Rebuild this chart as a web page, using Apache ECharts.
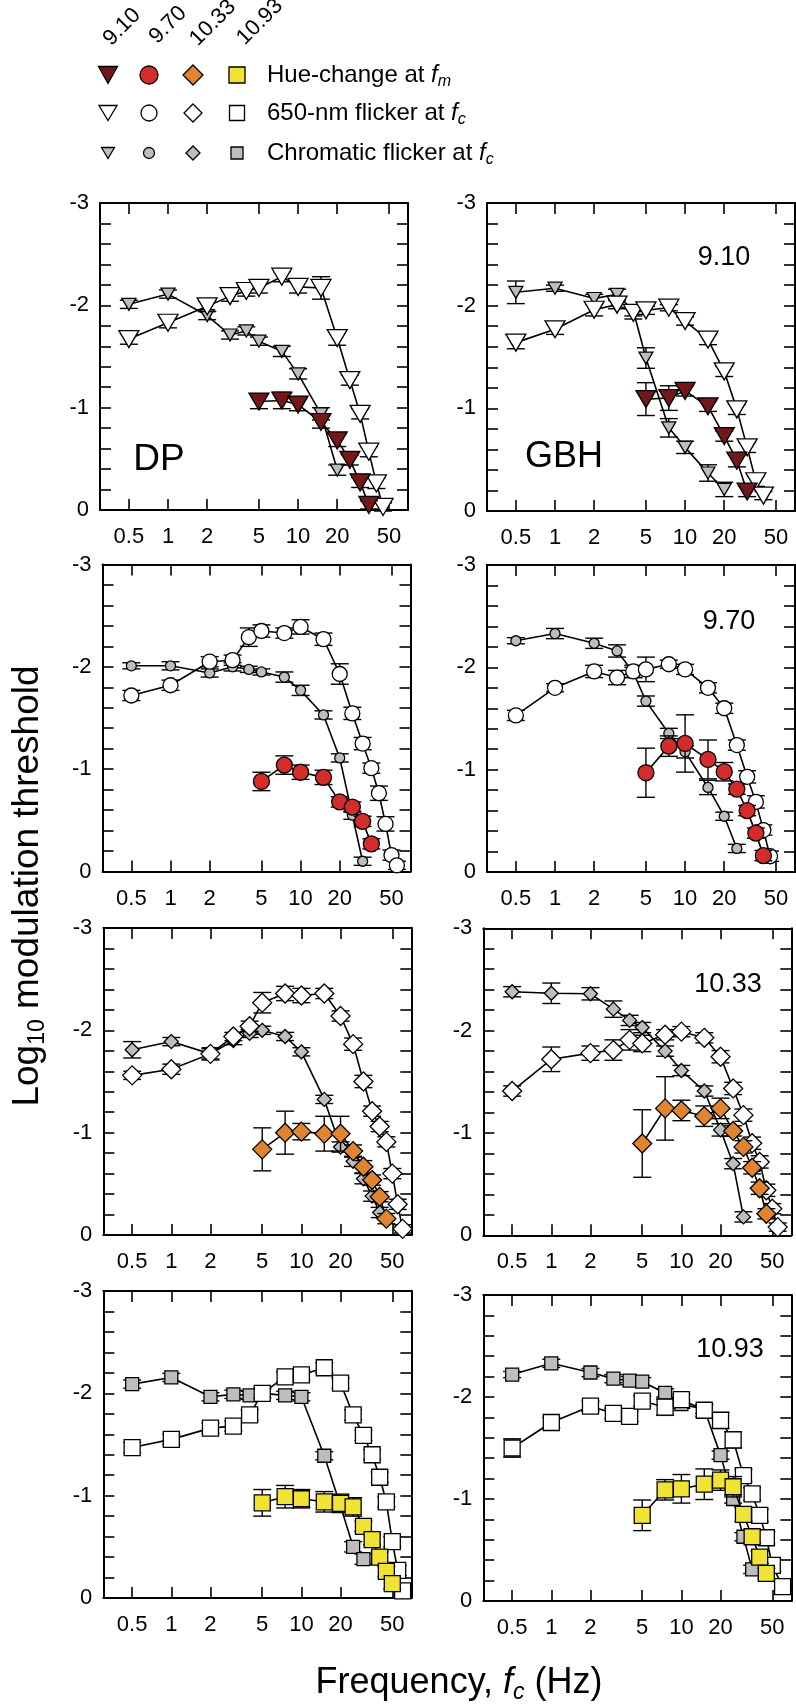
<!DOCTYPE html>
<html><head><meta charset="utf-8">
<script src="https://cdn.jsdelivr.net/npm/echarts@6/dist/echarts.min.js"></script>
<style>html,body{margin:0;padding:0;background:#fff}#c{width:796px;height:1708px}</style>
</head><body><div id="c"></div>
<script>
// ---------- data ----------
const xTickValues = [0.5, 1, 2, 5, 10, 20, 50];
const subjects = ['DP', 'GBH'];
const wavelengths = ['9.10', '9.70', '10.33', '10.93'];
const legendRows = ['Hue-change at ', '650-nm flicker at ', 'Chromatic flicker at '];

// [frequency Hz, log10 threshold, error]
const dp910Chrom = [[0.5,-2.01,0.04],[1,-2.11,0.04],[2,-1.90,0.04],[3,-1.71,0.04],[4,-1.75,0.04],[5,-1.65,0.04],[7.5,-1.55,0.05],[10,-1.33,0.05],[15,-0.94,0.06],[20,-0.39,0.05]];
const dp910Open  = [[0.5,-1.67,0.05],[1,-1.83,0.05],[2,-1.99,0.05],[3,-2.09,0.05],[4,-2.14,0.05],[5,-2.17,0.05],[7.5,-2.28,0.05],[10,-2.18,0.06],[15,-2.17,0.11],[20,-1.68,0.07],[25,-1.27,0.05],[30,-0.94,0.05],[35,-0.57,0.05],[40,-0.26,0.05],[45,-0.03,0.04]];
const dp910Hue   = [[5,-1.06,0.07],[7.5,-1.07,0.08],[10,-1.03,0.06],[15,-0.86,0.06],[20,-0.68,0.06],[25,-0.49,0.05],[30,-0.27,0.05],[35,-0.05,0.04]];

const gbh910Chrom = [[0.5,-2.13,0.11],[1,-2.17,0.03],[2,-2.07,0.04],[3,-2.11,0.05],[4,-1.95,0.05],[5,-1.49,0.10],[7.5,-0.81,0.09],[10,-0.62,0.06],[15,-0.37,0.08],[20,-0.21,0.07]];
const gbh910Open  = [[0.5,-1.64,0.06],[1,-1.77,0.05],[2,-1.96,0.06],[3,-2.01,0.04],[4,-1.93,0.06],[5,-1.955,0.04],[7.5,-1.98,0.03],[10,-1.85,0.04],[15,-1.67,0.05],[20,-1.36,0.05],[25,-0.99,0.05],[30,-0.62,0.05],[35,-0.29,0.05],[40,-0.15,0.04]];
const gbh910Hue   = [[5,-1.09,0.16],[7.5,-1.10,0.12],[10,-1.17,0.05],[15,-1.02,0.05],[20,-0.73,0.05],[25,-0.49,0.06],[30,-0.19,0.05]];

const dp970Chrom = [[0.5,-2.01,0.03],[1,-2.01,0.04],[2,-1.94,0.04],[3,-2.00,0.04],[4,-1.975,0.03],[5,-1.95,0.03],[7.5,-1.90,0.05],[10,-1.77,0.05],[15,-1.53,0.04],[20,-1.11,0.04],[25,-0.55,0.04],[30,-0.10,0.04]];
const dp970Open  = [[0.5,-1.72,0.05],[1,-1.82,0.05],[2,-2.05,0.05],[3,-2.065,0.05],[4,-2.29,0.09],[5,-2.35,0.06],[7.5,-2.33,0.05],[10,-2.39,0.07],[15,-2.27,0.06],[20,-1.93,0.10],[25,-1.545,0.06],[30,-1.25,0.06],[35,-1.01,0.05],[40,-0.765,0.07],[45,-0.465,0.07],[50,-0.16,0.05],[55,-0.06,0.04]];
const dp970Hue   = [[5,-0.88,0.09],[7.5,-1.04,0.09],[10,-0.97,0.07],[15,-0.92,0.07],[20,-0.68,0.05],[25,-0.63,0.05],[30,-0.49,0.05],[35,-0.27,0.05]];

const gbh970Chrom = [[0.5,-2.26,0.03],[1,-2.33,0.05],[2,-2.235,0.05],[3,-2.16,0.06],[4,-1.95,0.05],[5,-1.67,0.05],[7.5,-1.354,0.05],[10,-1.174,0.06],[15,-0.826,0.07],[20,-0.545,0.04],[25,-0.23,0.04]];
const gbh970Open  = [[0.5,-1.53,0.05],[1,-1.80,0.04],[2,-1.96,0.06],[3,-1.90,0.07],[4,-1.96,0.06],[5,-1.98,0.12],[7.5,-2.03,0.04],[10,-1.98,0.05],[15,-1.80,0.05],[20,-1.60,0.05],[25,-1.24,0.05],[30,-0.93,0.06],[35,-0.685,0.06],[40,-0.41,0.05],[45,-0.154,0.05]];
const gbh970Hue   = [[5,-0.97,0.24],[7.5,-1.23,0.10],[10,-1.256,0.28],[15,-1.10,0.19],[20,-0.98,0.09],[25,-0.81,0.05],[30,-0.60,0.05],[35,-0.38,0.05],[40,-0.16,0.05]];

const dp1033Chrom = [[0.5,-1.81,0.08],[1,-1.89,0.04],[2,-1.77,0.05],[3,-1.90,0.04],[4,-1.97,0.04],[5,-2.00,0.04],[7.5,-1.94,0.04],[10,-1.79,0.04],[15,-1.325,0.04],[20,-0.86,0.05],[25,-0.72,0.05],[30,-0.55,0.05],[35,-0.38,0.05],[40,-0.22,0.05]];
const dp1033Open  = [[0.5,-1.56,0.04],[1,-1.62,0.05],[2,-1.77,0.06],[3,-1.94,0.04],[4,-2.04,0.05],[5,-2.27,0.10],[7.5,-2.36,0.07],[10,-2.34,0.07],[15,-2.36,0.05],[20,-2.14,0.05],[25,-1.865,0.06],[30,-1.50,0.06],[35,-1.21,0.05],[40,-1.06,0.05],[45,-0.91,0.05],[50,-0.60,0.05],[55,-0.30,0.05],[60,-0.06,0.04]];
const dp1033Hue   = [[5,-0.837,0.21],[7.5,-1.00,0.21],[10,-1.01,0.08],[15,-0.99,0.17],[20,-0.99,0.17],[25,-0.82,0.06],[30,-0.667,0.06],[35,-0.537,0.05],[40,-0.374,0.05],[45,-0.16,0.05]];

const gbh1033Chrom = [[0.5,-2.38,0.05],[1,-2.365,0.10],[2,-2.36,0.06],[3,-2.21,0.08],[4,-2.10,0.05],[5,-2.03,0.05],[7.5,-1.80,0.05],[10,-1.61,0.05],[15,-1.41,0.05],[20,-1.03,0.06],[25,-0.70,0.05],[30,-0.18,0.05]];
const gbh1033Open  = [[0.5,-1.41,0.05],[1,-1.72,0.12],[2,-1.78,0.07],[3,-1.81,0.10],[4,-1.91,0.10],[5,-1.875,0.08],[7.5,-1.96,0.05],[10,-1.99,0.05],[15,-1.93,0.05],[20,-1.745,0.06],[25,-1.435,0.06],[30,-1.174,0.06],[35,-0.90,0.06],[40,-0.717,0.06],[45,-0.44,0.06],[50,-0.26,0.05],[55,-0.08,0.04]];
const gbh1033Hue   = [[5,-0.897,0.33],[7.5,-1.24,0.31],[10,-1.22,0.10],[15,-1.164,0.10],[20,-1.24,0.10],[25,-1.02,0.05],[30,-0.864,0.06],[35,-0.66,0.06],[40,-0.46,0.06],[45,-0.21,0.05]];

const dp1093Chrom = [[0.5,-2.09,0.04],[1,-2.155,0.04],[2,-1.966,0.04],[3,-1.99,0.04],[4,-1.98,0.04],[5,-2.00,0.04],[7.5,-1.98,0.04],[10,-1.966,0.04],[15,-1.39,0.04],[20,-0.90,0.05],[25,-0.50,0.05],[30,-0.38,0.05]];
const dp1093Open  = [[0.5,-1.47,0.05],[1,-1.55,0.05],[2,-1.66,0.05],[3,-1.68,0.05],[4,-1.79,0.05],[5,-2.00,0.05],[7.5,-2.16,0.05],[10,-2.18,0.05],[15,-2.25,0.05],[20,-2.10,0.05],[25,-1.79,0.05],[30,-1.59,0.05],[35,-1.40,0.05],[40,-1.18,0.05],[45,-0.94,0.05],[50,-0.55,0.05],[55,-0.27,0.05],[60,-0.07,0.04]];
const dp1093Hue   = [[5,-0.93,0.13],[7.5,-0.99,0.11],[10,-0.97,0.09],[15,-0.94,0.10],[20,-0.925,0.09],[25,-0.89,0.09],[30,-0.70,0.05],[35,-0.57,0.05],[40,-0.40,0.05],[45,-0.26,0.05],[50,-0.14,0.05]];

const gbh1093Chrom = [[0.5,-2.22,0.03],[1,-2.33,0.04],[2,-2.24,0.04],[3,-2.18,0.04],[4,-2.16,0.04],[5,-2.15,0.04],[7.5,-2.04,0.04],[10,-1.93,0.04],[15,-1.88,0.04],[20,-1.43,0.04],[25,-1.00,0.04],[30,-0.63,0.04],[35,-0.31,0.04]];
const gbh1093Open  = [[0.5,-1.50,0.09],[1,-1.75,0.05],[2,-1.91,0.05],[3,-1.84,0.05],[4,-1.81,0.05],[5,-1.96,0.05],[7.5,-1.90,0.08],[10,-1.975,0.05],[15,-1.87,0.06],[20,-1.77,0.08],[25,-1.58,0.08],[30,-1.23,0.06],[35,-1.05,0.06],[40,-0.84,0.06],[45,-0.62,0.06],[50,-0.35,0.06],[60,-0.14,0.05]];
const gbh1093Hue   = [[5,-0.84,0.15],[7.5,-1.09,0.10],[10,-1.10,0.14],[15,-1.145,0.15],[20,-1.185,0.10],[25,-1.12,0.10],[30,-0.85,0.07],[35,-0.63,0.06],[40,-0.43,0.06],[45,-0.27,0.05]];

// ---------- styling / layout ----------
const FONT = '"Liberation Sans", Arial, Helvetica, sans-serif';
const HUE_COLORS = ['#741719', '#d42b2b', '#e0842f', '#f1e334'];
const GRAY = '#bdbdbd';
const SHAPES = [
  {symbol: 'triangle', rotate: 180, open: [20, 17], hue: [20, 17], chrom: [14, 12]},
  {symbol: 'circle', rotate: 0, open: 15, hue: 16, chrom: 10},
  {symbol: 'diamond', rotate: 0, open: [19, 19], hue: [19, 19], chrom: [14, 14]},
  {symbol: 'rect', rotate: 0, open: 16, hue: 16, chrom: 13}
];
const GRIDS = [
  [{left: 100, top: 203, width: 308, height: 307}, {left: 487, top: 203, width: 308, height: 308}],
  [{left: 102.5, top: 564.5, width: 308, height: 307}, {left: 487, top: 565, width: 308, height: 307}],
  [{left: 103.3, top: 928, width: 308, height: 307}, {left: 483.3, top: 928.3, width: 308, height: 307}],
  [{left: 103.3, top: 1291, width: 308, height: 307}, {left: 483.3, top: 1295, width: 308, height: 306}]
];
const DATA = [
  [[dp910Chrom, dp910Open, dp910Hue], [gbh910Chrom, gbh910Open, gbh910Hue]],
  [[dp970Chrom, dp970Open, dp970Hue], [gbh970Chrom, gbh970Open, gbh970Hue]],
  [[dp1033Chrom, dp1033Open, dp1033Hue], [gbh1033Chrom, gbh1033Open, gbh1033Hue]],
  [[dp1093Chrom, dp1093Open, dp1093Hue], [gbh1093Chrom, gbh1093Open, gbh1093Hue]]
];

const grid = [], xAxis = [], yAxis = [], series = [];
const axisLineStyle = {color: '#000', width: 2};
const tickStyle = {color: '#000', width: 1.6};

function errSeries(gi, data, z) {
  return {
    type: 'custom', xAxisIndex: gi * 2, yAxisIndex: gi * 2, z: z, silent: true, animation: false,
    encode: {x: 0, y: 1},
    data: data,
    renderItem: function (params, api) {
      const x = api.value(0), y = api.value(1), e = api.value(2);
      const a = api.coord([x, y - e]), b = api.coord([x, y + e]);
      const h = 9;
      const st = {stroke: '#000', lineWidth: 1.4};
      return {type: 'group', children: [
        {type: 'line', shape: {x1: a[0], y1: a[1], x2: b[0], y2: b[1]}, style: st},
        {type: 'line', shape: {x1: a[0] - h, y1: a[1], x2: a[0] + h, y2: a[1]}, style: st},
        {type: 'line', shape: {x1: b[0] - h, y1: b[1], x2: b[0] + h, y2: b[1]}, style: st}
      ]};
    }
  };
}
function lineSeries(gi, data, shp, size, fill, z) {
  return {
    type: 'line', xAxisIndex: gi * 2, yAxisIndex: gi * 2, z: z, silent: true, animation: false,
    data: data.map(d => [d[0], d[1]]),
    symbol: shp.symbol, symbolSize: size, symbolRotate: shp.rotate, showAllSymbol: true,
    lineStyle: {color: '#000', width: 1.6},
    itemStyle: {color: fill, borderColor: '#000', borderWidth: 1.3, opacity: 1}
  };
}

for (let r = 0; r < 4; r++) {
  for (let c = 0; c < 2; c++) {
    const gi = grid.length;
    grid.push(Object.assign({containLabel: false, outerBoundsMode: 'none'}, GRIDS[r][c]));
    ['bottom', 'top'].forEach((pos, k) => {
      xAxis.push({
        type: 'log', logBase: 10, gridIndex: gi, position: pos, min: 0.3, max: 70,
        axisLine: {show: true, onZero: false, lineStyle: axisLineStyle},
        axisTick: {show: true, inside: true, length: 11, customValues: xTickValues, lineStyle: tickStyle},
        minorTick: {show: false}, splitLine: {show: false}, minorSplitLine: {show: false},
        axisLabel: {show: k === 0, customValues: xTickValues, fontSize: 22, fontFamily: FONT, color: '#000', margin: 16,
          formatter: v => String(v)}
      });
    });
    ['left', 'right'].forEach((pos, k) => {
      yAxis.push({
        type: 'value', gridIndex: gi, position: pos, min: -3, max: 0, interval: 0.2, inverse: true,
        axisLine: {show: true, onZero: false, lineStyle: axisLineStyle},
        axisTick: {show: true, inside: true, length: 11, lineStyle: tickStyle},
        splitLine: {show: false},
        axisLabel: {show: k === 0, showMinLabel: true, showMaxLabel: true, fontSize: 22, fontFamily: FONT, color: '#000', margin: 11,
          formatter: v => (Math.abs(v - Math.round(v)) < 1e-6 ? String(Math.round(v) === 0 ? 0 : Math.round(v)) : '')}
      });
    });
    const shp = SHAPES[r];
    const [chrom, open, hue] = DATA[r][c];
    series.push(errSeries(gi, chrom, 2));
    series.push(lineSeries(gi, chrom, shp, shp.chrom, GRAY, 3));
    series.push(errSeries(gi, open, 4));
    series.push(lineSeries(gi, open, shp, shp.open, '#fff', 5));
    series.push(errSeries(gi, hue, 6));
    series.push(lineSeries(gi, hue, shp, shp.hue, HUE_COLORS[r], 7));
  }
}

// ---------- graphic texts and legend ----------
const graphic = [];
function txt(x, y, text, size, rotation) {
  const el = {type: 'text', x: x, y: y, silent: true, z: 100,
    style: {text: text, fontSize: size, fontFamily: FONT, fill: '#000',
      align: 'center', verticalAlign: 'middle', textAlign: 'center', textVerticalAlign: 'middle'}};
  if (rotation) el.rotation = rotation;
  return el;
}
graphic.push(txt(159, 460, subjects[0], 37));
graphic.push(txt(564, 457, subjects[1], 36));
const wlPos = [[724, 258], [729, 622], [728, 985], [730, 1350]];
wavelengths.forEach((w, i) => graphic.push(txt(wlPos[i][0], wlPos[i][1], w, 27)));

// rotated column headers
const headPos = [[122, 27], [168, 25], [213, 23], [260, 22]];
wavelengths.forEach((w, i) => graphic.push(txt(headPos[i][0], headPos[i][1], w, 22, Math.PI / 4)));

// legend symbols
const legX = [108, 149, 193, 237];
const legY = [75, 113, 153];
function legSym(k, cx, cy, sz, fill) {
  const st = {fill: fill, stroke: '#000', lineWidth: 1.3};
  if (k === 0) {
    const w = sz[0] / 2, h = sz[1] / 2;
    return {type: 'polygon', shape: {points: [[cx - w, cy - h], [cx + w, cy - h], [cx, cy + h]]}, style: st, z: 100};
  }
  if (k === 1) return {type: 'circle', shape: {cx: cx, cy: cy, r: sz / 2}, style: st, z: 100};
  if (k === 2) {
    const w = sz / 2;
    return {type: 'polygon', shape: {points: [[cx, cy - w], [cx + w, cy], [cx, cy + w], [cx - w, cy]]}, style: st, z: 100};
  }
  return {type: 'rect', shape: {x: cx - sz / 2, y: cy - sz / 2, width: sz, height: sz}, style: st, z: 100};
}
const legSizes = [
  [[19, 17], 18, 20, 16],
  [[18, 15], 16, 18, 15],
  [[13, 11], 11, 14, 12]
];
for (let row = 0; row < 3; row++) {
  for (let k = 0; k < 4; k++) {
    const fill = row === 0 ? HUE_COLORS[k] : (row === 1 ? '#fff' : GRAY);
    graphic.push(legSym(k, legX[k], legY[row], legSizes[row][k], fill));
  }
  const sub = row === 0 ? 'm' : 'c';
  graphic.push({type: 'text', x: 267, y: legY[row], silent: true, z: 100,
    style: {text: legendRows[row] + '{i|f}{s|' + sub + '}', fontSize: 24, fontFamily: FONT, fill: '#000',
      align: 'left', verticalAlign: 'middle', textAlign: 'left', textVerticalAlign: 'middle',
      rich: {
        i: {fontSize: 24, fontFamily: FONT, fontStyle: 'italic', fill: '#000'},
        s: {fontSize: 16, fontFamily: FONT, fontStyle: 'italic', fill: '#000', padding: [14, 0, 0, 0]}
      }}});
}

// axis titles
graphic.push({type: 'text', x: 28, y: 886, rotation: Math.PI / 2, silent: true, z: 100,
  style: {text: 'Log{s|10} modulation threshold', fontSize: 37, fontFamily: FONT, fill: '#000',
    align: 'center', verticalAlign: 'middle', textAlign: 'center', textVerticalAlign: 'middle',
    rich: {s: {fontSize: 23, fontFamily: FONT, fill: '#000', padding: [20, 0, 0, 0]}}}});
graphic.push({type: 'text', x: 459, y: 1683, silent: true, z: 100,
  style: {text: 'Frequency, {i|f}{s|c} (Hz)', fontSize: 36, fontFamily: FONT, fill: '#000',
    align: 'center', verticalAlign: 'middle', textAlign: 'center', textVerticalAlign: 'middle',
    rich: {
      i: {fontSize: 36, fontFamily: FONT, fontStyle: 'italic', fill: '#000'},
      s: {fontSize: 23, fontFamily: FONT, fontStyle: 'italic', fill: '#000', padding: [20, 0, 0, 0]}
    }}});

const chart = echarts.init(document.getElementById('c'), null, {renderer: 'canvas', width: 796, height: 1708});
chart.setOption({
  animation: false,
  backgroundColor: '#fff',
  grid: grid, xAxis: xAxis, yAxis: yAxis, series: series, graphic: graphic
});
</script>
</body></html>
